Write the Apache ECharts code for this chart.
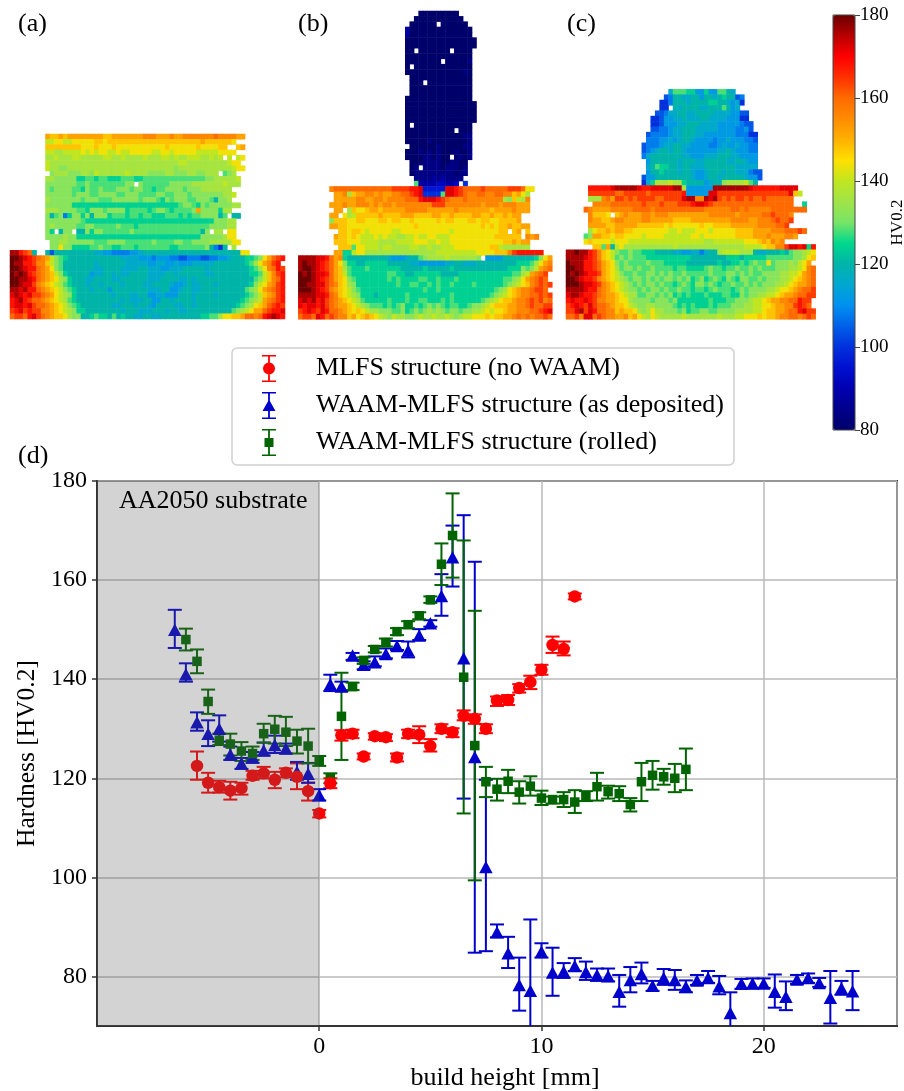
<!DOCTYPE html>
<html><head><meta charset="utf-8">
<style>html,body{margin:0;padding:0;background:#fff}#c{width:904px;height:1091px}</style>
<script src="https://cdn.jsdelivr.net/npm/echarts@6/dist/echarts.min.js"></script>
</head><body><div id="c"></div>
<script>
// Hardness codes: a=80, b=84 ... z=180 (4 HV per letter). Each row: first column | cells, '.' = no reading
const panelARows = [
"8|srrsrssssssssrrssssssstttssstsstttttttuttttss",
"8|ppqqppqqqqqrrqrrrrrrrrrrrrrrrrrrrrrsrrrrrrq",
"8|rrrrrrrrqqqrqqqrqqqqqqqqqqqrqqqqqqrqqqqrr..rs",
"8|ppooppppqpqpqqppqppqqqqqppqqpqqqqqpppppqqqq",
"8|oopoooppoooooppoopoooopoooppopoopppoopop.p.pq",
"8|poooooooooooooooooooooooooooooppooooooooopqq",
"8|poonnoooooooooooooooooooooooonoooooooooooopqq",
"8|.nooonnnoonpoooooopoooonnnnoonnnoonnooo.mno.",
"8|oonnnnnllmmlmmlllmmmllmmmmmmmmmmmmmmnnooooop",
"8|nnnnnnnmmnmmmmmmmmnn.nmmmmmmnnnnnooooooopooo",
"8|nmnnnnmmlnmmnmmmnnnmnnmmlmmnnnnmnnnooooooo",
"8|nnnnnnmnnnmmnnnnmmnnnmmmmnnmmnnnmnnnnnnnoop",
"8|onnnnnnnmnnnmmmnnnnnnmnnnmlnmnnnmmnnnmknno",
"8|nnnnnnllllllllllllllllllllllllmnnmlnmnnnnnoo",
"8|ooonnnnmmlnnnmnnnnlmmmmlmnnmlmmmmnsnnnnloo",
"8|nkmnhlnnlnknnnlmmmlmmlmmlllmmmlmlmmnnnnkm.kk",
"8|nnnnnnnnmlllllllllllllllllllllllllllllnnnoo",
"8|nonnnnnmmnnmmmmmnmmmlmmmmmmmmmmmmmmmmnnnnoo",
"8|nl.knn.kknlnnmmmmmmnmmmmmmmmmmmmmmmkn.oo.qq",
"8|nnnnonnllllllllllllllllllllllllllllnnnnnoqq",
"9|nnoonnnnnnmmmnnnnmmmmmmnmmmmnnmmnnnnoooooqq",
"9|nnqnnllllmmnmmllmmmlmmmmmmmllmmmmmmnkhfk.o.",
"yywvuk..kgkkkkkkkkkjjiihhhhiijkkkkkkkkkkkkkkkkkkkkkkqq",
"zzyxwvutspnmlkkkkkkkkkkkkjjjjiiihiiihhgghhhgghhiijkkkllmnqsuvw",
"zyywwvttrpnmkkkkkkkjkkkkkkjjjjjiijjiijiiijjjjjkkkkkkklmoqstvw",
"zzyxwwutsqnmkkkkkkkjjkkkkjjjjkkjjjiijjjkkkkkjkkkkkkkkklmoqtuwv",
"zyzywvutsrpnlkkkkkijjkkjkjjkkkkjjjjkkjkkkkkkjjkkkkkkkkllmprtvw",
"zzyyxwutsrqonlkkkjjkkkkjjkkkkkkjjjkkkkjjkjkkkkkkkkkkkkkmnprtuw",
"zzyxxvtsrqpomlkkkjkkjkkkkjkkkkjjkkkkjiijkjjkkkjkkkkkkklnpqstvw",
"yyxywwutsrqpnmlkkkjkkkikkkkkkkkjjjkkiijkkjjkkkkkkkkkkmnoqstuvw",
"xyxwxvvutsqponlkkkkkkkkjkkkjjkkiijjiiikkkjkkkkjkkkkkklmnprstvw",
"wxywvuutsrqpomlkkkkkkkkkkjkjjjkkiikkjkkkkjkkkkkkkkkklmnopstuvw",
"wxxwxvuutsrqpnmlkkkkkkkjjkkkjkkjikkkkjjkkjkkkkkkkkklmnoqrsuvwv",
"vwxvwvvttsrqponllkkkkkkkkjkkkjjjkkkjkkjjkkkkkkkkkkmnopqssuvwwx",
"uvvuwxvutsrrqonnkklmllkmklkkjjkkjjkkkkkkkkkllmmoqqrrsuutuwxyxw"
];
const panelBRows = [
"27|aaaaaaaaa","26|aaaaaaaaaaa","25|aaaaaa.aaaaaa","24|caaaaaaaaaaaaaa","24|caaaaaaaaaaaaaa",
"24|aaaaaaaaaaaaaaaa","24|aaaaaaaaaaaaaaaa","24|aa.aaaaaaa.aaaa","24|aaaaaaaaaaaaaaa","24|aaaaaaaa.aaaaab",
"24|a.aaaaaaaaaaaaa","24|aaaaaaaaaaaaaba","25|aaaaaaaaaaaaaa","25|aaa.aaaaaaaaaa","25|aaaaaaaaaaaaaa",
"25|aaaaaaaaaaaaaa","24|aaaaaaaaaaaaaaa","24|aaaaaaaaaaaaaaaa","24|aaaaaaaaaaaaaaaa","24|aaaaaaaaaaaaaaaa",
"24|aaaaaaaaaaaaaaaa","24|a.aaaaaaaaaaaaa","24|aaaaaaaaaaa.aaa","24|aaaaaaaaaaaaabb","24|aaaaabaaaaaaaab",
"24|.aaaaaabaaaaabb","24|aaabababaaabaab","24|aaaabbabaa.abab","25|aaabbbbaabbaa","25|ab.bbbbabbbab",
"25|abbbbbbbbbabb","26|bbbbcbcbbbb","26|mccccddccd.f",
"7|tuuuuuuuuuuuuuvvvvwwxeeeeexxwvuuuuvuuuuuvvvuqq",
"8|sstorssttstssttuuvwxffffmxxwvuttuuttuuttrsqo",
"8|sssssttssttsttttuuuwxxxwvutttuttttttttonrpot",
"7|ssstsstttststtsttttttttvvvttttttttstttstttsss",
"8|ss.orqqrssrssssstttttsssssstsssssssrsssstsss",
"7|ss.qoprrrrrsrrrrsssrrrrssrrsrrrrssrrsrrsrss",
"7|nrrrqqrrqqqrrqrrqqrqqqqqrqrrqqqrrqrrqqrrrrs",
"7|ssrrqqqqqqqqqqqqqqqrqqqqqqqqqqqqqqrqrqrrsrrss",
"9|rrqrrqpqqqqqppqqqqqqqqqqqpqqqqqqqqqqrr.rs.r",
"8|srrqrqpppqpqppooppqppqqpppqqqqqqqqqqrrrrrr.tst",
"8|rrrqqqppppooooppppqqqppqppqqqqqqqqqqqqrrsrss",
"9|rrrmqqpppoppooooppoopoopppqqqqqqqqrrpoooooo",
"8|ssllpqqoooooooooooooooopppppppppqqqqrrrtvwwwwww",
"yyyyxxwustlkkkkkkkkkjiiijkkmnoooopoooooon.iiiikkkkkkklnqsu",
"yzyyxwvusqnllkklllllkkkkkjjiiiiiijjkkjjjkkkkkkkkklllmoqst",
"yzzyxwvusromlllmlllllllkkkkklkkkkklkkkkkkkkkkkklllnmnpstu",
"zyzyxxwusrpmllllllllmmllkkllllllkkkkllllllllllllmmopstuv",
"zzzyxwvusrqnmlllllllmlmllllmmllmlllmllllllllllmmnoqstuvu",
"zzyyxxvutrqonlllllllllmllmmllmlmllmllllmllllllmnopqrtuvuv",
"zzzyxwvtsrqpnmllllllllllllllmllmllllllllllllmnoqrsttuvvu",
"yyyyxxwutrqponlllkllllllmlllllllllmllllllllmnopqrsttuuvuv",
"xyxywxvutsrqpomlllllmlllmllmmlllmlmllllllmnopqrrsttuvuvtu",
"xwxxwxvutssrqponmmmlmlmnllmlmnmnmlmmllmnnopqrrrssttuvuuvv",
"vwxwvxwuutsrqrqpoonnnmmnlmnmnononmnnmnnoopqpqqrsstttuuvwx",
"uvvuxwuvuttrsqrsrqponpoonnopoopooponoppqqqrqrrsstututuuvuvv"
];
const panelCRows = [
"23|jmmmlliiliimmkj","22|ghkkjjkkikkjklkkgh","21|ffhkkkjkkkkllkkjijf","21|ff.kjkkkkjjkkkmkij",
"20|gghjjkkjjkkkkjjjjiigg","19|ffgiijjkjjjkkjjjjiiiff","19|ffgiiijjkkkjjjjiiiiihgg","19|gghhijjkkkjjjjjiiiihhig",
"18|ghhhhijjkkkjjiiiiiiihhhff","18|hhhiijijkkjiiiihiijiiihhg","17|ghhhijjkkjjiiiihhijiijiihh","17|ghijkkjkkjiiiiiiijjkjiiihh",
"17|hjkkkkkkkjjiiijjjkkkjjiiii","18|ikkkkkkjkkkjjkkkkkjjkkjii","18|jkmllkkjkkjjjkkkkkkkjjjjj","18|ikklkkkjkkjiijkkkjkkjjjhgg",
"17|giikkkkkkkkjiijkkjkkkkkjiig","17|fjlooopoolkkkkijkknoooopmk",
"5|wwwwwxyyyyyxwwxxxxxyyoiiiiiiyyyyyyyyxwwwwwwxxxx",
"5|vvvvvvuuvvvvvuvvvvvvvwiiiiixxvvvvvvvvvvvvvvvvxrp",
"5|oootusvvuvuvvvvuuvvvvxyyttyxyvuvuvvuvuuvuuuuuu",
"6|ttttuuuuuuuvuuuvuuuvvvwxxwvuuuuuuuuuuuuuuuuuu..l",
"4|utsssstttttuuuutuuuuuuuuuuuttttttuututttttuuuuuuuu",
"5|trrrq.rstsssttstttsssssssssttttttstttttuuvuuut",
"5|tssrrsttssssttsssssrrrrsssssssssttttsstttuvuuv",
"5|ssssrrsssssrrrrrrqrqqqqqqrqqrrrrssssssttttuuv",
"5|oqrrsrssrrqqqqqqqqppqpppqqqpqqqqqrrrrsssstttuuuvu",
"4|mnssrrqrrqqqqpqqqqppppppqqpqqqqqqqrrrrssstssstts",
"4|qrqqqqpqqqpppppppppppppppppoopppppppqqqrsrtst",
"6|rrmskpqooooooooooopoooooooooooooooppppqrrttvxxwxlw",
"yyzyywvtrqpnmmnmmlllkkkkjjiijjhjkkoppppoookjjkkklkmnnopq",
"yyyyxwvtrqpmnmnmmmllllllllllkkkkkkkklllklllllmmmmmmnnoqr",
"zyyywwvusrqnmnmmmmnmmmlllllkkkkkkklkkllmlmnmmqmnnnonpqs",
"zzyywwvusrqomnnmnmmnmmmmlmmllllmnmmlmmnmmnmnmmmnnnoopqtu",
"zyzyxwwvsrqpnmmnmmnnmnmnmmnmmmmmnmmmnnmnmnmmnnnnooppqstu",
"zzyxwwvtsrqponmnnmnmnmnnmnmnlmnlmnmlnmlnnmmnmnnnoopqrstu",
"zzzyxxwvtsrqponmnmnnmnmmlmnmlnnmnmlmmnmmnmnmnnnoopqrsstu",
"yyyyxwwutsrqponnmnmnnmnmmnmmlmmlmnmmmlmnmnnnnoopqqrstuuv",
"xyyxwwvutssrqpoommnnmnmnlmlmlllmlllmmllnmnnooppqrsstuuvv",
"wxwwxwvttssrqqonnnnmnnnmnlllllllmlllmmnnnoppqrssttuuwvv",
"vwxwvxvuutsrrqponnoonnnnmlmlmlllmlmmmnnnooppqqrssttvwvu",
"vvxyvxwuuttrsrrqonoqoonnnmnlmmnnmmnnnnooooppqrrsstuuwxvv",
"uuvtxxuvuttsstrsqpoqpooooopooooooopoooppqqqrqrrsttuutuvuv"
];
const heatCols = [62, 57, 56];

const redX = [-5.5,-5,-4.5,-4,-3.5,-3,-2.5,-2,-1.5,-1,-0.5,0,0.5,1,1.5,2,2.5,3,3.5,4,4.5,5,5.5,6,6.5,7,7.5,8,8.5,9,9.5,10,10.5,11,11.5];
const redMean = [122.5,119.1,118.2,117.5,118,120.5,121,119.7,121.1,120.3,117.4,112.9,119,128.7,129,124.4,128.5,128.3,124.2,129,128.8,126.5,130,129.3,132.6,132,130,135.7,135.8,138.2,139.4,141.9,146.9,146.1,156.7];
const redLow = [119.7,117.1,117.1,115.7,116.7,119.7,120,118,120.2,117.8,115.5,112.1,118,127.6,128.1,123.8,127.8,127.5,123.4,128.1,127.1,125.4,129.1,128.3,131.7,131,129.1,134.6,134.8,137.3,138,140.9,145.3,144.8,156.1];
const redHigh = [125.4,121.1,119.5,119.3,119.1,121.5,122.3,121.3,122,123,119.1,113.6,120,129.7,129.8,125,129.1,128.9,125,129.8,130.5,127.9,130.9,130.1,133.7,132.9,130.9,136.5,136.8,139,140.7,142.9,148.6,147.6,157.3];

const blueX = [-6.5,-6,-5.5,-5,-4.5,-4,-3.5,-3,-2.5,-2,-1.5,-1,-0.5,0,0.5,1,1.5,2,2.5,3,3.5,4,4.5,5,5.5,6,6.5,7,7.5,8,8.5,9,9.5,10,10.5,11,11.5,12,12.5,13,13.5,14,14.5,15,15.5,16,16.5,17,17.5,18,18.5,19,19.5,20,20.5,21,21.5,22,22.5,23,23.5,24];
const blueMean = [150,141,131.3,129,130,124.8,123,124.3,125.6,126.7,126,121.3,120.9,116.6,139,138.5,144.8,142.9,143.4,145.1,146.7,145.8,148.8,151.3,156.8,164.6,144.2,124.3,102.1,88.9,84.7,78.3,77.1,85,80.8,81,82.1,80.9,80.3,80.1,76.9,79.3,80.5,78.1,79.7,79.3,77.9,79.2,79.7,78,72.6,78.6,78.6,78.6,76.9,75.9,79.4,79.7,78.7,75.7,77.6,77];
const blueLow = [146.3,139.5,129.6,126.5,127.4,123.7,121.9,123.1,124.6,125.1,125,119.7,119.1,115.5,137.6,137.6,143.9,142,142.6,144.2,145.9,144.4,147.9,150.6,152.8,158.7,115.9,84.8,85.1,87.9,81.7,73.1,62.7,83.8,76.1,79.7,81.1,79.3,79.1,79,73.9,76.8,78.6,77.1,78.3,77.3,76.8,78.3,78.7,76.4,68.4,77.5,77.6,77.7,73.7,73.2,78.5,78.7,77.9,70.5,76.3,73.2];
const blueHigh = [154,143.2,133.3,131.7,132.7,126.4,124.1,125.3,127.2,128.6,127,123.3,123.1,117.8,140.9,139.5,145.3,143.6,144.6,146.2,147.7,147.6,150.1,151.9,161.2,171,173.1,163.7,119.7,90.5,88,83.8,91.5,86.7,85.8,82.7,83.7,83,81.6,81.6,80.3,81.9,82.8,79.1,81.5,81.3,79.2,80.3,81.1,80.1,76.8,79.5,79.6,79.6,80.4,79,80.3,80.6,79.7,81.1,79.1,81.1];

const greenX = [-6,-5.5,-5,-4.5,-4,-3.5,-3,-2.5,-2,-1.5,-1,-0.5,0,0.5,1,1.5,2,2.5,3,3.5,4,4.5,5,5.5,6,6.5,7,7.5,8,8.5,9,9.5,10,10.5,11,11.5,12,12.5,13,13.5,14,14.5,15,15.5,16,16.5];
const greenMean = [148,143.6,135.5,127.7,126.9,125.5,125,129,129.9,129.3,127.5,126.5,123.5,120,132.5,138.5,143.8,146,147.4,149.6,151,152.8,156,163.2,169,140.4,126.6,119.3,117.8,119.4,117.2,118.4,116,115.7,115.7,115.2,116.4,118.3,117.3,116.9,114.7,119.3,120.6,120.3,120,121.8];
const greenLow = [145.8,141.2,133,126.7,124.6,123.5,123.7,127.2,127,126.5,125,123,122.5,119,123.7,137.8,143.1,145.4,146.6,148.9,150.3,152.1,155.4,159,160.5,112.9,99.4,116.2,115.5,117,114.9,116.5,114.6,114.9,114.2,113,115.4,115.5,115.9,115.4,113.3,115.4,117.7,118.7,117.2,117.6];
const greenHigh = [150.2,146,137.9,129,129,127.3,126.4,131,132.6,132.4,129.8,130,124.5,121,141.3,139.3,144.4,146.7,148.2,150.3,151.7,153.5,156.7,167.4,177.5,168,153.8,122.3,119.9,121.7,119.4,120.4,117.5,116.3,117.2,117.6,117.4,121.1,118.5,118.4,116,123.1,123.5,121.9,122.9,126];

const yTicks = [80,100,120,140,160,180];
const seriesNames = ['MLFS structure (no WAAM)','WAAM-MLFS structure (as deposited)','WAAM-MLFS structure (rolled)'];
const colormap = ['#00006a','#00008c','#0000b0','#0010d0','#0030dc','#0060e8','#0090f0','#00a8d0','#00b4a8','#00d88c','#78e468','#a0e448','#c0e620','#ffe000','#ffb000','#ff8c00','#ff6a00','#ff3000','#ff0000','#b80000','#6a0000'];

const RED='#ff0000', BLUE='#0000cd', GREEN='#006400', SERIF='"Liberation Serif"';

function decode(rows){
  const out=[];
  rows.forEach((row,r)=>{
    const p=row.split('|'); const off=p.length>1?+p[0]:0; const cells=p[p.length-1];
    for(let i=0;i<cells.length;i++){ const ch=cells[i]; if(ch==='.')continue;
      out.push([off+i,r,80+4*(ch.charCodeAt(0)-97)]); }
  });
  return out;
}
const idx=n=>Array.from({length:n},(_,i)=>String(i));
function errSeries(x,low,high,color,z){
  return {type:'custom',xAxisIndex:0,yAxisIndex:0,z,clip:true,silent:true,
    data:x.map((v,i)=>[v,low[i],high[i]]),encode:{x:0,y:[1,2]},
    renderItem(params,api){
      const a=api.coord([api.value(0),api.value(1)]),b=api.coord([api.value(0),api.value(2)]);
      const st={stroke:color,lineWidth:2,fill:null},w=7;
      return {type:'group',children:[
        {type:'line',shape:{x1:a[0],y1:a[1],x2:b[0],y2:b[1]},style:st},
        {type:'line',shape:{x1:a[0]-w,y1:a[1],x2:a[0]+w,y2:a[1]},style:st},
        {type:'line',shape:{x1:b[0]-w,y1:b[1],x2:b[0]+w,y2:b[1]},style:st}]};
    }};
}
function markSeries(name,x,y,sym,size,color,z){
  return {type:'scatter',name,xAxisIndex:0,yAxisIndex:0,z,symbol:sym,symbolSize:size,
    itemStyle:{color,opacity:1},data:x.map((v,i)=>[v,y[i]]),silent:true};
}
const stem='M0 0H14V1.6H7.9V25.4H14V27H0V25.4H6.1V1.6H0Z';
const heatGrids=[[10,134,275,185],[298.3,11,254,308.3],[566,89.3,249.7,230]];
const heatRows=[panelARows,panelBRows,panelCRows];
const heatX=[],heatY=[],heatS=[];
const grids=[{left:97,top:481,width:800,height:545,show:true,borderColor:'#333',borderWidth:2,backgroundColor:'transparent',outerBoundsMode:'none'}];
heatGrids.forEach((g,i)=>{
  grids.push({left:g[0],top:g[1],width:g[2],height:g[3],outerBoundsMode:'none'});
  heatX.push({type:'category',gridIndex:i+1,show:false,data:idx(heatCols[i])});
  heatY.push({type:'category',gridIndex:i+1,show:false,inverse:true,data:idx(heatRows[i].length)});
  heatS.push({type:'heatmap',xAxisIndex:i+1,yAxisIndex:i+1,data:decode(heatRows[i]),silent:true,itemStyle:{borderWidth:0}});
});
grids.push({left:833,top:15,width:22,height:415,show:true,borderColor:'#444',borderWidth:1,backgroundColor:'transparent',z:10,outerBoundsMode:'none'});

const option={
  animation:false,backgroundColor:'#fff',
  grid:grids,
  xAxis:[{type:'value',gridIndex:0,min:-10,max:26,interval:10,
      axisLine:{show:true,onZero:false,lineStyle:{color:'#333',width:2}},
      axisTick:{show:true,length:5,lineStyle:{color:'#333',width:1.5}},
      axisLabel:{fontFamily:SERIF,fontSize:24,color:'#000',margin:9,showMinLabel:false,showMaxLabel:false},
      splitLine:{show:true,lineStyle:{color:'#b8b8b8',width:1.5}},
      name:'build height [mm]',nameLocation:'middle',nameGap:39,
      nameTextStyle:{fontFamily:SERIF,fontSize:26,color:'#000',padding:[0,0,0,16]}},
    ...heatX,
    {type:'value',gridIndex:4,show:false,min:0,max:1}],
  yAxis:[{type:'value',gridIndex:0,min:70,max:180,interval:10,
      axisLine:{show:true,onZero:false,lineStyle:{color:'#333',width:2}},
      axisTick:{show:true,length:5,lineStyle:{color:'#333',width:1.5},customValues:yTicks},
      axisLabel:{fontFamily:SERIF,fontSize:24,color:'#000',margin:10,customValues:yTicks},
      splitLine:{show:true,lineStyle:{color:'#b8b8b8',width:1.5}},
      name:'Hardness [HV0.2]',nameLocation:'middle',nameGap:48,nameRotate:90,
      nameTextStyle:{fontFamily:SERIF,fontSize:25.5,color:'#000'}},
    ...heatY,
    {type:'value',gridIndex:4,position:'right',min:80,max:180,interval:20,z:20,
      axisLine:{show:false,onZero:false},
      axisTick:{show:true,length:5,lineStyle:{color:'#444',width:1}},
      axisLabel:{fontFamily:SERIF,fontSize:19,color:'#000',margin:5,align:'left'},
      splitLine:{show:false},
      name:'HV0.2',nameLocation:'middle',nameGap:34,nameRotate:90,nameMoveOverlap:false,
      nameTextStyle:{fontFamily:SERIF,fontSize:17,color:'#000'}}],
  visualMap:{type:'continuous',min:80,max:180,seriesIndex:[0,1,2],left:833,top:15,itemWidth:22,itemHeight:415,
    calculable:false,showLabel:false,text:null,hoverLink:false,realtime:false,inRange:{color:colormap},textStyle:{fontSize:0},padding:0},
  legend:{left:232,top:348,orient:'vertical',selectedMode:false,itemWidth:14,itemHeight:27,itemGap:10,
    padding:[7,10,9,30],backgroundColor:'rgba(255,255,255,0.8)',borderColor:'#d0d0d0',borderWidth:1.5,borderRadius:5,
    textStyle:{fontFamily:SERIF,fontSize:26,color:'#000',padding:[0,0,0,35]},
    data:[{name:seriesNames[0],icon:'path://'+stem+'M1 13.5a6 6 0 1 1 12 0a6 6 0 1 1 -12 0Z'},
          {name:seriesNames[1],icon:'path://'+stem+'M7 7.5L13.5 19H0.5Z'},
          {name:seriesNames[2],icon:'path://'+stem+'M2.5 9H11.5V18H2.5Z'}]},
  series:[...heatS,
    errSeries(redX,redLow,redHigh,RED,2),
    errSeries(blueX,blueLow,blueHigh,BLUE,3),
    errSeries(greenX,greenLow,greenHigh,GREEN,4),
    markSeries(seriesNames[1],blueX,blueMean,'triangle',[13.5,12.5],BLUE,5),
    markSeries(seriesNames[2],greenX,greenMean,'rect',9.5,GREEN,6),
    markSeries(seriesNames[0],redX,redMean,'circle',12.5,RED,7),
    {type:'custom',xAxisIndex:0,yAxisIndex:0,z:9,silent:true,clip:true,data:[[-10,0]],encode:{x:[0,1]},
      renderItem(params,api){
        const a=api.coord([api.value(0),180]),b=api.coord([api.value(1),70]);
        return {type:'rect',shape:{x:a[0],y:a[1],width:b[0]-a[0],height:b[1]-a[1]},style:{fill:'rgba(93,93,93,0.27)'}};
      }}
  ],
  graphic:[['(a)',18,25],['(b)',298,25],['(c)',567,25],['(d)',18,457],['AA2050 substrate',119,502]].map(t=>({
    type:'text',z:20,left:t[1],top:t[2]-14,style:{text:t[0],font:'26px '+SERIF,fill:'#000'}}))
};
echarts.init(document.getElementById('c'),null,{renderer:'canvas'}).setOption(option);
</script></body></html>
